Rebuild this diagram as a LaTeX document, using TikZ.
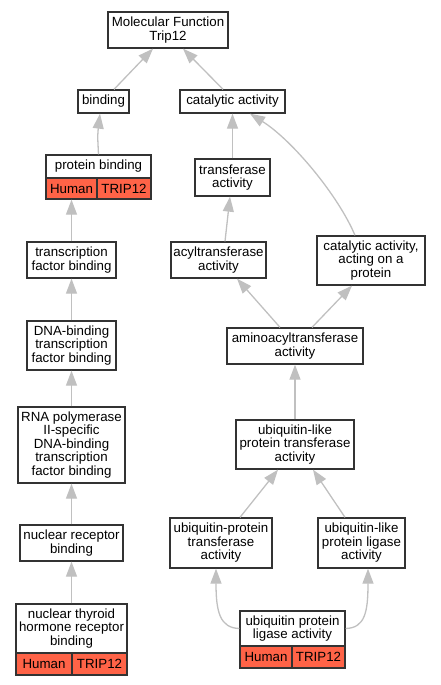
\documentclass[tikz,border=0pt]{standalone}
\usepackage{fontspec}
\setmainfont{Liberation Sans}
\usetikzlibrary{arrows.meta}
\definecolor{edgegray}{HTML}{C0C0C0}
\definecolor{boxline}{HTML}{333333}
\definecolor{tomato}{HTML}{FF6347}
\tikzset{
  box/.style={draw=boxline, line width=1.3pt, fill=white, rectangle, inner sep=0pt, align=center, font=\fontsize{13.3}{13.5}\selectfont},
  cell/.style={box, fill=tomato},
  edge/.style={draw=edgegray, line width=1.3pt, -{Triangle[length=15pt,width=11pt]}}
}
\begin{document}
\begin{tikzpicture}[x=1pt,y=-1pt]
\useasboundingbox (0,0) rectangle (440,685);
% nodes
\node[box, minimum width=120pt, minimum height=36pt] (mf) at (168,30) {Molecular Function\\Trip12};
\node[box, minimum width=51pt, minimum height=23pt] (bind) at (103.5,101.5) {binding};
\node[box, minimum width=105pt, minimum height=23pt] (cat) at (232.5,101.5) {catalytic activity};
\node[box, minimum width=105pt, minimum height=23pt] (pb) at (98.5,166.5) {protein binding};
\node[cell, minimum width=51pt, minimum height=21pt] (pbH) at (71.5,188.5) {Human};
\node[cell, minimum width=54pt, minimum height=21pt] (pbT) at (124,188.5) {TRIP12};
\node[box, minimum width=75pt, minimum height=37pt] (trans) at (232.5,177.5) {transferase\\activity};
\node[box, minimum width=89pt, minimum height=36pt] (tfb) at (71.5,260) {transcription\\factor binding};
\node[box, minimum width=95pt, minimum height=36pt] (acyl) at (218.5,260) {acyltransferase\\activity};
\node[box, minimum width=108pt, minimum height=49pt] (catact) at (371,260.5) {catalytic activity,\\acting on a\\protein};
\node[box, minimum width=89pt, minimum height=49pt] (dna) at (71.5,345.5) {DNA-binding\\transcription\\factor binding};
\node[box, minimum width=136pt, minimum height=36pt] (amino) at (295,346) {aminoacyltransferase\\activity};
\node[box, minimum width=107pt, minimum height=76pt] (rna) at (71.5,445) {RNA polymerase\\II-specific\\DNA-binding\\transcription\\factor binding};
\node[box, minimum width=118pt, minimum height=49pt] (ublt) at (295,444.5) {ubiquitin-like\\protein transferase\\activity};
\node[box, minimum width=103pt, minimum height=36pt] (nr) at (71.5,543) {nuclear receptor\\binding};
\node[box, minimum width=102pt, minimum height=50pt] (ubpt) at (221,543) {ubiquitin-protein\\transferase\\activity};
\node[box, minimum width=87pt, minimum height=50pt] (ubll) at (361.5,543) {ubiquitin-like\\protein ligase\\activity};
\node[box, minimum width=111pt, minimum height=49pt] (nthr) at (71.5,628.5) {nuclear thyroid\\hormone receptor\\binding};
\node[cell, minimum width=56pt, minimum height=22pt] (nthrH) at (44,664) {Human};
\node[cell, minimum width=55pt, minimum height=22pt] (nthrT) at (99.5,664) {TRIP12};
\node[box, minimum width=105pt, minimum height=35pt] (upl) at (292.5,628.5) {ubiquitin protein\\ligase activity};
\node[cell, minimum width=52pt, minimum height=22pt] (uplH) at (266,657) {Human};
\node[cell, minimum width=53pt, minimum height=22pt] (uplT) at (318.5,657) {TRIP12};
% edges
\draw[edge] ([xshift=10.5pt]bind.north) -- ([xshift=-15pt]mf.south);
\draw[edge] ([xshift=-9.5pt]cat.north) -- ([xshift=15pt]mf.south);
\draw[edge] (pb.north) .. controls ([xshift=-1pt,yshift=20pt]pb.north) .. ([xshift=-3.5pt]bind.south);
\draw[edge] (trans.north) -- (cat.south);
\draw[edge] ([xshift=-16pt]catact.north) .. controls (338,195) and (292,140) .. ([xshift=17.5pt]cat.south);
\draw[edge] (tfb.north) -- (pbH.south);
\draw[edge] ([xshift=6.5pt]acyl.north) -- ([xshift=-2.5pt]trans.south);
\draw[edge] ([xshift=-15pt]amino.north) -- ([xshift=18.5pt]acyl.south);
\draw[edge] ([xshift=17pt]amino.north) -- ([xshift=-19pt]catact.south);
\draw[edge] (dna.north) -- (tfb.south);
\draw[edge] (ublt.north) -- (amino.south);
\draw[edge] (rna.north) -- (dna.south);
\draw[edge] (nr.north) -- (rna.south);
\draw[edge] ([xshift=19pt]ubpt.north) -- ([xshift=-17pt]ublt.south);
\draw[edge] ([xshift=-16.5pt]ubll.north) -- ([xshift=18pt]ublt.south);
\draw[edge] (nthr.north) -- (nr.south);
\draw[edge] (upl.west) .. controls (220,628) and (216,612) .. ([xshift=-5pt]ubpt.south);
\draw[edge] (upl.east) .. controls (365,628) and (368,612) .. ([xshift=6.5pt]ubll.south);
\end{tikzpicture}
\end{document}
